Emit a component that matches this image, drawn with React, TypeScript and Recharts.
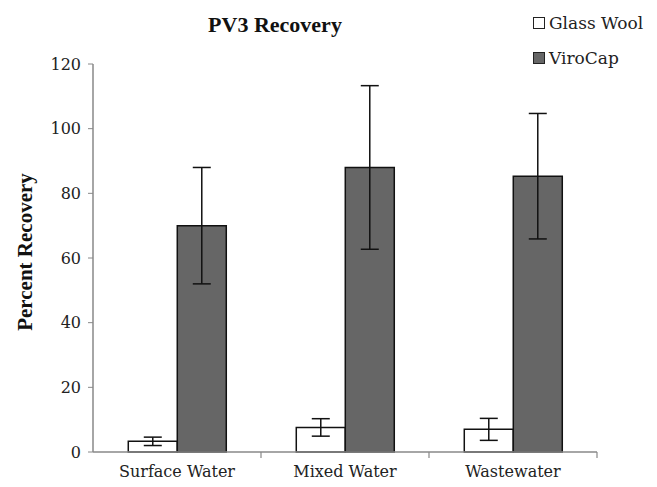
import { BarChart, Bar, XAxis, YAxis, ErrorBar } from "recharts";

const categories = ["Surface Water", "Mixed Water", "Wastewater"];
const glassWool = [3.3, 7.6, 7.0];
const glassWoolErr = [1.3, 2.7, 3.4];
const viroCap = [70, 88, 85.3];
const viroCapErr = [18, 25.3, 19.4];
const yTicks = [0, 20, 40, 60, 80, 100, 120];

const data = categories.map((name, i) => ({
  name,
  glass: glassWool[i],
  glassErr: glassWoolErr[i],
  viro: viroCap[i],
  viroErr: viroCapErr[i],
}));

const serif = "'DejaVu Serif', serif";
const boldSerif = "'Liberation Serif', serif";
const axisColor = "#888";

// category label plus a short tick at the right edge of its band
const CategoryTick = (props: any) => {
  const { x, y, payload, width, visibleTicksCount } = props;
  const half = width / visibleTicksCount / 2;
  return (
    <g>
      <line x1={x + half} x2={x + half} y1={y} y2={y + 6} stroke={axisColor} strokeWidth={1.2} />
      <text
        x={x}
        y={y + 14}
        dy="0.71em"
        textAnchor="middle"
        fill="#222"
        fontSize={16}
        fontFamily={serif}
      >
        {payload.value}
      </text>
    </g>
  );
};

export default function App() {
  return (
    <div style={{ position: "absolute", left: 0, top: 0, width: 657, height: 487, background: "#fff" }}>
      <BarChart
        width={657}
        height={487}
        data={data}
        margin={{ top: 64, right: 60, bottom: 5, left: 20 }}
        barCategoryGap="21%"
        barGap={0}
      >
        <XAxis
          dataKey="name"
          height={30}
          tickLine={false}
          tickSize={0}
          tickMargin={0}
          interval={0}
          axisLine={{ stroke: axisColor, strokeWidth: 1.5 }}
          tick={<CategoryTick />}
        />
        <YAxis
          width={73}
          domain={[0, 120]}
          ticks={yTicks}
          axisLine={{ stroke: axisColor, strokeWidth: 1.5 }}
          tickLine={{ stroke: axisColor }}
          tickSize={5}
          tickMargin={7}
          tick={{ fill: "#222", fontSize: 16, fontFamily: serif }}
          label={{
            value: "Percent Recovery",
            angle: -90,
            position: "insideLeft",
            offset: 5,
            dy: -6,
            style: { textAnchor: "middle", fontFamily: boldSerif, fontWeight: 700, fontSize: 21, fill: "#111" },
          }}
        />
        <Bar dataKey="glass" fill="#fff" stroke="#111" strokeWidth={1.5} isAnimationActive={false}>
          <ErrorBar dataKey="glassErr" width={9} stroke="#111" strokeWidth={1.5} direction="y" />
        </Bar>
        <Bar dataKey="viro" fill="#666" stroke="#111" strokeWidth={1.5} isAnimationActive={false}>
          <ErrorBar dataKey="viroErr" width={9} stroke="#111" strokeWidth={1.5} direction="y" />
        </Bar>
      </BarChart>

      <div
        style={{
          position: "absolute",
          left: 175,
          top: 12,
          width: 200,
          textAlign: "center",
          fontFamily: boldSerif,
          fontWeight: 700,
          fontSize: 22,
          color: "#111",
        }}
      >
        PV3 Recovery
      </div>

      <div style={{ position: "absolute", left: 533, top: 13, fontFamily: serif, fontSize: 17, color: "#222" }}>
        <div style={{ display: "flex", alignItems: "center", height: 20 }}>
          <span style={{ width: 10, height: 10, border: "1.5px solid #222", background: "#fff", marginRight: 4 }} />
          Glass Wool
        </div>
        <div style={{ display: "flex", alignItems: "center", height: 20, marginTop: 15 }}>
          <span style={{ width: 10, height: 10, border: "1.5px solid #222", background: "#666", marginRight: 4 }} />
          ViroCap
        </div>
      </div>
    </div>
  );
}
